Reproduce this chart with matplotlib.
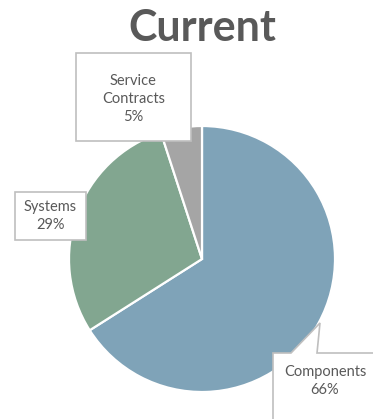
import matplotlib
matplotlib.use("Agg")
import matplotlib.pyplot as plt
from matplotlib.patches import Polygon, Rectangle

categories = ["Components", "Systems", "Service\nContracts"]
shares = [66, 29, 5]
colors = ["#7FA3B8", "#82A690", "#A5A5A5"]
title = "Current"

W, H = 373, 419
fig = plt.figure(figsize=(W / 100, H / 100), dpi=100)
ax = fig.add_axes([0, 0, 1, 1])

cx, cy, r = 202, H - 259, 133
ax.pie(shares, colors=colors, startangle=90, counterclock=False,
       center=(cx, cy), radius=r,
       wedgeprops=dict(edgecolor="white", linewidth=1.6))
ax.set_xlim(0, W)
ax.set_ylim(0, H)
ax.set_aspect("auto")
ax.axis("off")

tc = "#595959"
ec = "#BFBFBF"
fs = 10.5
fam = "Lato"
ls = 1.35

def y(p):
    return H - p

# Service Contracts box
ax.add_patch(Rectangle((76, y(141)), 115, 88, facecolor="white", edgecolor=ec, lw=1.2, zorder=5))
ax.text(133.5, y(99), f"{categories[2]}\n{shares[2]}%", ha="center", va="center",
        fontsize=fs, color=tc, family=fam, linespacing=ls, zorder=6)

# Systems box
ax.add_patch(Rectangle((15, y(240)), 71, 48, facecolor="white", edgecolor=ec, lw=1.2, zorder=5))
ax.text(50.5, y(216), f"{categories[1]}\n{shares[1]}%", ha="center", va="center",
        fontsize=fs, color=tc, family=fam, linespacing=ls, zorder=6)

# Components callout
pts = [(273, y(353)), (291, y(353)), (320, y(323)), (317, y(353)), (380, y(353)),
       (380, y(425)), (273, y(425))]
ax.add_patch(Polygon(pts, closed=True, facecolor="white", edgecolor=ec, lw=1.2, zorder=5))
ax.text(325, y(381), f"{categories[0]}\n{shares[0]}%", ha="center", va="center",
        fontsize=fs, color=tc, family=fam, linespacing=ls, zorder=6)

ax.text(202, y(28), title, ha="center", va="center", fontsize=31, fontweight="bold",
        color=tc, family=fam)

fig.savefig("out.png", dpi=100)
